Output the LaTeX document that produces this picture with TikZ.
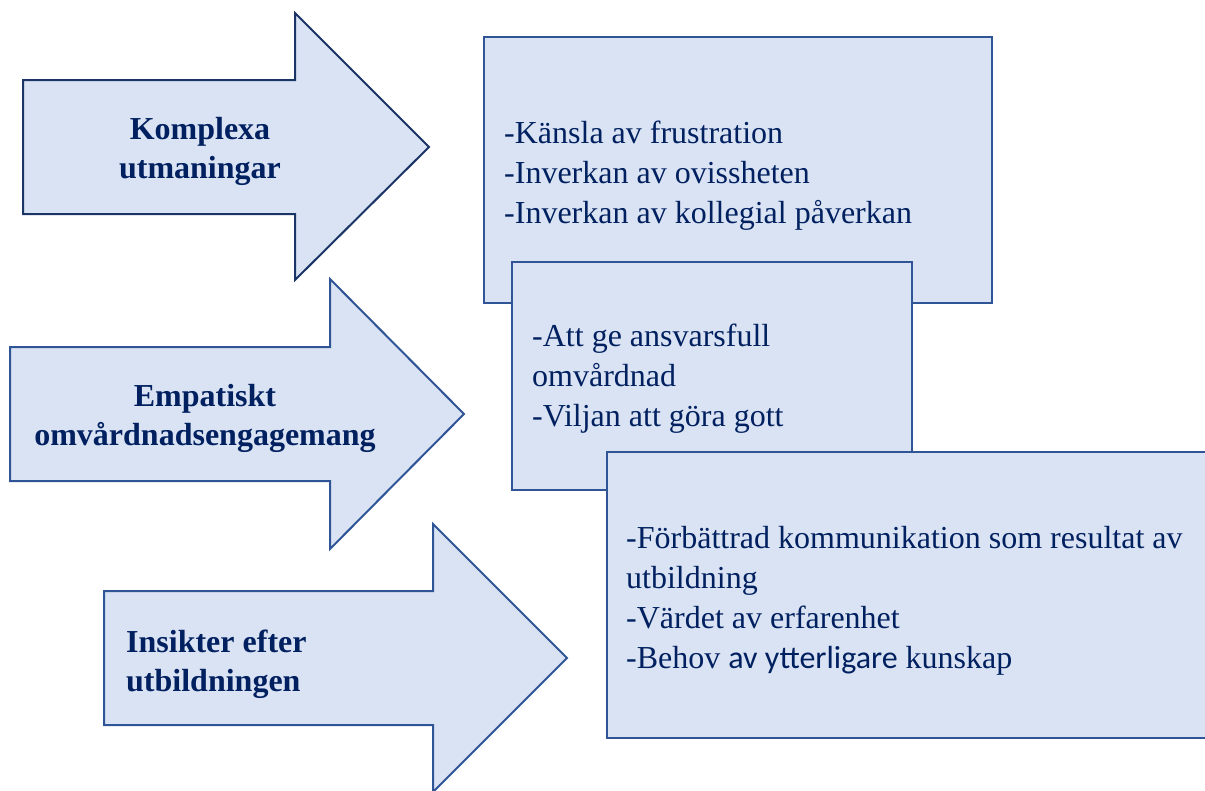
\documentclass[tikz,border=0pt]{standalone}
\usepackage{fontspec}
\setmainfont{Liberation Serif}
\newfontfamily\calfont{Carlito}
\usetikzlibrary{positioning}
\definecolor{lightfill}{HTML}{DAE3F3}
\definecolor{darkline}{HTML}{1A3466}
\definecolor{boxline}{HTML}{2F5597}
\definecolor{navytext}{HTML}{002060}
\tikzset{
  arrowshape/.style={fill=lightfill, draw=boxline, line width=2pt, line join=miter},
  boxshape/.style={rectangle, fill=lightfill, draw=boxline, line width=2pt, inner sep=0pt},
  headtext/.style={text=navytext, font=\bfseries\fontsize{32}{39}\selectfont, align=center, inner sep=0pt},
  itemtext/.style={text=navytext, font=\fontsize{32}{40}\selectfont, align=left, inner sep=0pt}
}
\begin{document}
\begin{tikzpicture}[x=1pt, y=-1pt]
        \useasboundingbox (0,0) rectangle (1205,790);

        % arrows
        \draw [arrowshape, draw=darkline] (23,80) -- (295,80) -- (295,13) -- (429,147) -- (295,280) -- (295,214) -- (23,214) -- cycle;
        \draw [arrowshape] (10,347) -- (330,347) -- (330,279) -- (464,414) -- (330,549) -- (330,481) -- (10,481) -- cycle;
        \draw [arrowshape] (104,591) -- (433,591) -- (433,524) -- (567,658) -- (433,792) -- (433,725) -- (104,725) -- cycle;

        % arrow text
        \node [headtext] (komplexa) at (200,151) {Komplexa\\utmaningar};
        \node [headtext] (empatiskt) at (205,418) {Empatiskt\\omvårdnadsengagemang};
        \node [headtext, align=left, anchor=west] (insikter) at (126,664) {Insikter efter\\utbildningen};

        % boxes
        \node [boxshape, minimum width=508pt, minimum height=266pt] (box1) at (738,170) {};
        \node [boxshape, minimum width=400pt, minimum height=228pt] (box2) at (712,376) {};
        \node [boxshape, minimum width=608pt, minimum height=286pt] (box3) at (911,595) {};

        % box text
        \node [itemtext, right=21pt of box1.west, yshift=-6pt] (text1) {-Känsla av frustration\\-Inverkan av ovissheten\\-Inverkan av kollegial påverkan};
        \node [itemtext, right=21pt of box2.west, yshift=-3pt] (text2) {-Att ge ansvarsfull\\omvårdnad\\-Viljan att göra gott};
        \node [itemtext, right=20pt of box3.west, yshift=-6pt] (text3) {-Förbättrad kommunikation som resultat av\\utbildning\\-Värdet av erfarenhet\\-Behov {\calfont av ytterligare} kunskap};
    \end{tikzpicture}
\end{document}
